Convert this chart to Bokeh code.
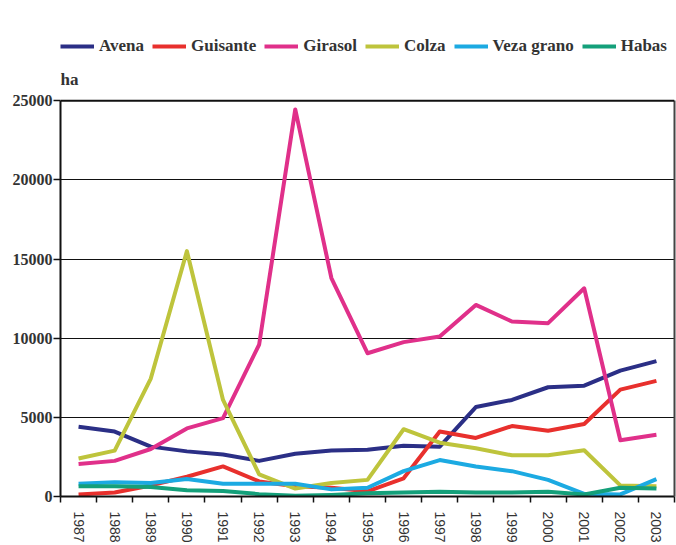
from bokeh.plotting import figure
from bokeh.models import (FixedTicker, Legend, LegendItem, Label, Range1d, LinearAxis, Span)
from bokeh.embed import file_html
from bokeh.resources import INLINE

years = list(range(1987, 2004))
avena = [4400, 4100, 3150, 2850, 2650, 2250, 2700, 2900, 2950, 3200, 3150, 5650, 6100, 6900, 7000, 7950, 8550]
guisante = [130, 250, 700, 1250, 1900, 950, 650, 550, 330, 1150, 4100, 3700, 4450, 4150, 4580, 6750, 7300]
girasol = [2050, 2250, 3000, 4300, 4950, 9600, 24450, 13800, 9050, 9750, 10100, 12100, 11050, 10950, 13150, 3550, 3900]
colza = [2400, 2900, 7450, 15500, 6100, 1400, 500, 850, 1050, 4250, 3400, 3050, 2600, 2600, 2920, 700, 640]
veza = [800, 900, 850, 1100, 800, 800, 800, 450, 550, 1600, 2300, 1900, 1600, 1050, 170, 130, 1100]
habas = [650, 650, 600, 400, 350, 150, 50, 100, 200, 250, 300, 250, 250, 300, 130, 550, 500]

series_names = ["Avena", "Guisante", "Girasol", "Colza", "Veza grano", "Habas"]
series_values = [avena, guisante, girasol, colza, veza, habas]
colors = ["#2B2F86", "#E8302D", "#E0308A", "#BEC43C", "#1CAAE2", "#14A07A"]
y_ticks = [0, 5000, 10000, 15000, 20000, 25000]
y_max = 25000

# frame extends above the plotted area to host legend and unit label
TOP_PX = 495.0   # frame height in px (frame top at canvas top)
PLOT_PX = 395.0  # height of the 0..25000 area
y_end = y_max * TOP_PX / PLOT_PX

p = figure(width=676, height=545, output_backend="svg", toolbar_location=None,
           x_range=Range1d(years[0] - 0.5, years[-1] + 0.5),
           y_range=Range1d(0, y_end),
           min_border_left=60, min_border_right=2, min_border_top=0, min_border_bottom=48)

renderers = []
for name, vals, col in zip(series_names, series_values, colors):
    r = p.line(years, vals, line_color=col, line_width=4, line_join="round")
    renderers.append(r)

# x axis
xa = p.xaxis[0]
xa.ticker = FixedTicker(ticks=years, minor_ticks=[y - 0.5 for y in years] + [years[-1] + 0.5])
xa.major_label_overrides = {y: str(y) for y in years}
xa.major_label_orientation = "vertical"
xa.major_tick_out = 0
xa.major_tick_in = 0
xa.minor_tick_out = 6
xa.minor_tick_in = 0
xa.minor_tick_line_color = "#111"
xa.minor_tick_line_width = 1.5
xa.axis_line_color = "#111"
xa.axis_line_width = 2
xa.major_label_standoff = 9
xa.major_label_text_font = "Liberation Sans"
xa.major_label_text_font_size = "14px"
xa.major_label_text_color = "#333"

# y axis
ya = p.yaxis[0]
ya.ticker = FixedTicker(ticks=y_ticks)
ya.bounds = (0, y_max)
ya.major_label_overrides = {t: str(t) for t in y_ticks}
ya.major_tick_out = 7
ya.major_tick_in = 0
ya.major_tick_line_color = "#111"
ya.major_tick_line_width = 1.5
ya.minor_tick_out = 0
ya.minor_tick_in = 0
ya.axis_line_color = "#111"
ya.axis_line_width = 2
ya.major_label_standoff = 1
ya.major_label_text_font = "Liberation Serif"
ya.major_label_text_font_style = "bold"
ya.major_label_text_font_size = "16px"
ya.major_label_text_color = "#333"

# right border as an unlabeled axis
ra = LinearAxis(ticker=FixedTicker(ticks=[]), bounds=(0, y_max),
                major_tick_out=0, major_tick_in=0, minor_tick_out=0, minor_tick_in=0,
                major_label_text_font_size="0px", axis_line_color="#444", axis_line_width=2)
p.add_layout(ra, "right")

p.xgrid.grid_line_color = None
p.ygrid.grid_line_color = "#111"
p.ygrid.grid_line_width = 1
p.ygrid.ticker = FixedTicker(ticks=y_ticks[:-1])

top_line = Span(location=y_max, dimension="width", line_color="#111", line_width=2)
p.add_layout(top_line)

p.outline_line_color = None
p.background_fill_color = "white"
p.border_fill_color = "white"

legend = Legend(items=[LegendItem(label=n, renderers=[r]) for n, r in zip(series_names, renderers)],
                orientation="horizontal", location=(0, 440),
                glyph_width=34, glyph_height=20, label_standoff=5, spacing=8,
                padding=0, margin=0, border_line_color=None, background_fill_alpha=0,
                label_text_font="Liberation Serif", label_text_font_style="bold",
                label_text_font_size="17px", label_text_color="#333", label_height=20)
p.add_layout(legend, "center")

ha = Label(x=0, y=417, x_units="screen", y_units="screen", text="ha",
           text_font="Liberation Serif", text_font_style="bold", text_font_size="17px",
           text_color="#333", text_baseline="middle", text_align="left")
p.add_layout(ha)

open("out.html", "w").write(file_html(p, INLINE))
